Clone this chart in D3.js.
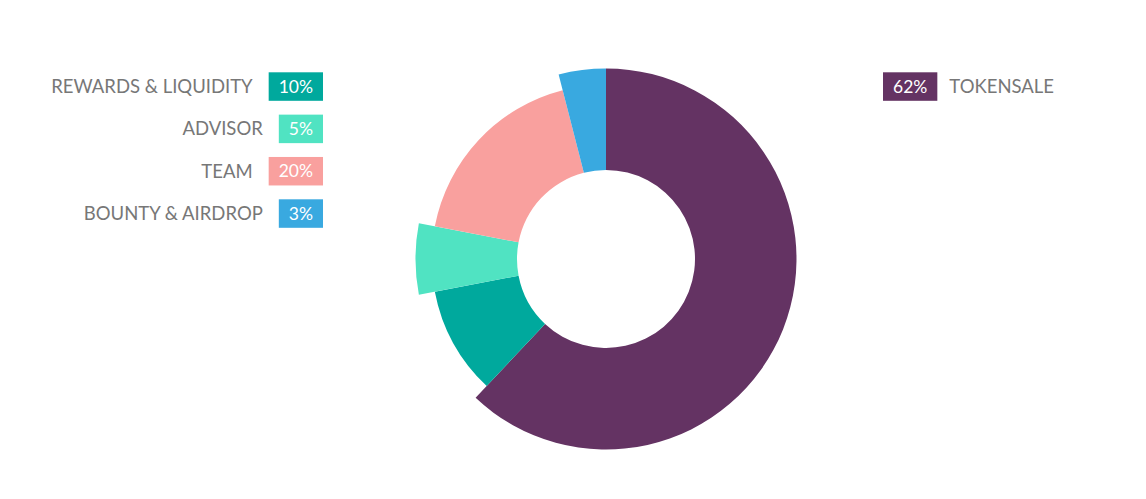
<!DOCTYPE html>
<html>
<head>
<meta charset="utf-8">
<script src="https://cdn.jsdelivr.net/npm/d3@7"></script>
<style>
  html, body { margin: 0; padding: 0; background: #ffffff; }
  svg { display: block; }
</style>
</head>
<body>
<svg id="chart" width="1146" height="499"></svg>
<script>
// ---- data ----
const categories = ["TOKENSALE", "REWARDS & LIQUIDITY", "ADVISOR", "TEAM", "BOUNTY & AIRDROP"];
const sliceValues = [62, 10, 6, 18, 4];          // slice sizes as drawn
const radiusValues = [100, 84, 100, 84, 100];    // relative slice thickness
const legendLabels = ["62%", "10%", "5%", "20%", "3%"]; // badge texts as printed
const colors = ["#643363", "#00A99D", "#50E3C2", "#F9A09E", "#39A9E0"];

// ---- layout ----
const svg = d3.select("#chart");
const cx = 606, cy = 259;
const innerR = 89, outerR = 190.5;

const rScale = d3.scaleLinear().domain([0, 100]).range([innerR, outerR]);

const pie = d3.pie().sort(null).value(d => d.value).startAngle(0).endAngle(2 * Math.PI);
const data = categories.map((c, i) => ({ name: c, value: sliceValues[i], r: radiusValues[i], color: colors[i], label: legendLabels[i] }));
const arcs = pie(data);

const arc = d3.arc().innerRadius(innerR).outerRadius(d => rScale(d.data.r));

svg.append("g")
  .attr("transform", `translate(${cx},${cy})`)
  .selectAll("path")
  .data(arcs)
  .join("path")
  .attr("d", arc)
  .attr("fill", d => d.data.color);

// ---- legends ----
const font = "Lato, 'Open Sans', sans-serif";
const rowY = d3.scalePoint().domain([1, 2, 3, 4]).range([86.5, 213.5]);

// left legend (right-aligned at badge right edge)
const leftItems = data.slice(1);
const leftRight = 323;
const left = svg.append("g");
leftItems.forEach((d, i) => {
  const y = rowY(i + 1);
  const g = left.append("g");
  const t = g.append("text")
    .attr("y", y)
    .attr("dy", "0.35em")
    .attr("font-family", font)
    .attr("font-size", 17.5)
    .attr("fill", "#ffffff")
    .attr("text-anchor", "middle")
    .text(d.label);
  const tw = t.node().getComputedTextLength();
  const bw = tw + 20;
  const bx = leftRight - bw;
  g.insert("rect", "text")
    .attr("x", bx).attr("y", y - 14.2)
    .attr("width", bw).attr("height", 28.5)
    .attr("fill", d.color);
  t.attr("x", bx + bw / 2);
  g.append("text")
    .attr("x", bx - 16)
    .attr("y", y)
    .attr("dy", "0.35em")
    .attr("font-family", font)
    .attr("font-size", 18.5)
    .attr("fill", "#777777")
    .attr("text-anchor", "end")
    .text(d.name);
});

// right legend
const rd = data[0];
const rg = svg.append("g");
const ry = rowY(1);
const rx = 883;
const rt = rg.append("text")
  .attr("y", ry).attr("dy", "0.35em")
  .attr("font-family", font).attr("font-size", 17.5)
  .attr("fill", "#ffffff").attr("text-anchor", "middle")
  .text(rd.label);
const rtw = rt.node().getComputedTextLength();
const rbw = rtw + 20;
rg.insert("rect", "text")
  .attr("x", rx).attr("y", ry - 14.2)
  .attr("width", rbw).attr("height", 28.5)
  .attr("fill", rd.color);
rt.attr("x", rx + rbw / 2);
rg.append("text")
  .attr("x", rx + rbw + 12)
  .attr("y", ry).attr("dy", "0.35em")
  .attr("font-family", font).attr("font-size", 18.5)
  .attr("fill", "#777777")
  .text(rd.name);
</script>
</body>
</html>
